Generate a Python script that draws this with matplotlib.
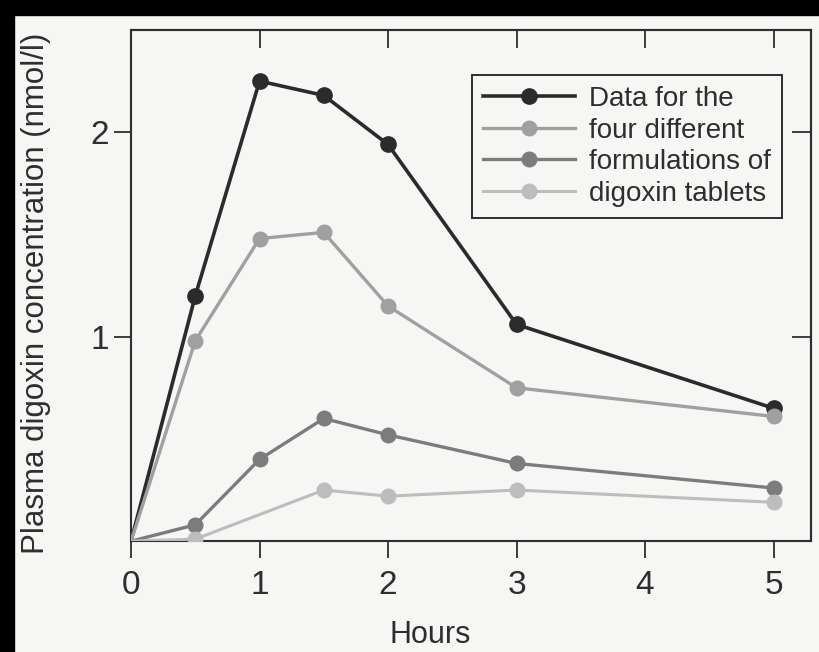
import matplotlib
matplotlib.use("Agg")
import matplotlib.pyplot as plt
from matplotlib.patches import Rectangle

plt.rcParams['font.family'] = ['Liberation Sans', 'DejaVu Sans']

# Sampling times (hours) and plasma digoxin levels (nmol/l) for four tablet formulations
hours_a = [0, 0.5, 1, 1.5, 2, 3, 5]
form_a = [0, 1.20, 2.25, 2.18, 1.94, 1.06, 0.65]
form_b = [0, 0.98, 1.48, 1.51, 1.15, 0.75, 0.61]
form_c = [0, 0.08, 0.40, 0.60, 0.52, 0.38, 0.26]
hours_d = [0, 0.5, 1.5, 2, 3, 5]
form_d = [0, 0.01, 0.25, 0.22, 0.25, 0.19]

legend_lines = ["Data for the", "four different", "formulations of", "digoxin tablets"]
x_ticks = [0, 1, 2, 3, 4, 5]
y_ticks = [1, 2]

paper = "#f6f6f4"
ink = "#2e2e2e"

fig = plt.figure(figsize=(8.2, 6.52), dpi=100, facecolor=paper)
ax = fig.add_axes([0.1598, 0.170, 0.829, 0.784], facecolor=paper)

styles = [
    dict(color="#2b2b2b", lw=2.6, ms=11),
    dict(color="#a0a0a0", lw=2.4, ms=10.5),
    dict(color="#7c7c7c", lw=2.4, ms=10.5),
    dict(color="#bdbdbd", lw=2.2, ms=10.5),
]
series = [(hours_a, form_a), (hours_a, form_b), (hours_a, form_c), (hours_d, form_d)]

handles = []
for (xs, ys), st, lab in zip(series, styles, legend_lines):
    h, = ax.plot(xs, ys, color=st["color"], lw=st["lw"], marker="o",
                 ms=st["ms"], mfc=st["color"], mec=st["color"],
                 markevery=list(range(1, len(xs))), label=lab, zorder=3)
    handles.append(h)

ax.set_xlim(0, 5.29)
ax.set_ylim(0, 2.5)
ax.set_xticks(x_ticks)
ax.set_yticks(y_ticks)
ax.tick_params(axis="both", direction="out", length=12, width=1.3, color=ink,
               labelsize=24, labelcolor=ink)
ax.tick_params(axis="x", pad=9)
ax.tick_params(axis="y", pad=4)

# Inward ticks on the top and right edges
top = ax.secondary_xaxis("top")
top.set_xticks(x_ticks[1:])
top.tick_params(direction="in", length=13, width=1.3, color=ink, labeltop=False)
right = ax.secondary_yaxis("right")
right.set_yticks(y_ticks)
right.tick_params(direction="in", length=14, width=1.3, color=ink, labelright=False)
for a in (ax, top, right):
    for s in a.spines.values():
        s.set_color(ink)
        s.set_linewidth(1.5)

ax.set_xlabel("Hours", fontsize=22, color=ink)
ax.xaxis.set_label_coords(0.44, -0.155)
ax.set_ylabel("Plasma digoxin concentration (nmol/l)", fontsize=22.5, color=ink)
ax.yaxis.set_label_coords(-0.118, 0.485)

leg = ax.legend(handles=handles, loc="upper right", bbox_to_anchor=(0.957, 0.912),
                fontsize=20, frameon=True, fancybox=False, handlelength=3.3,
                handletextpad=0.5, labelspacing=0.2, borderpad=0.4,
                borderaxespad=0.0, labelcolor=ink)
leg.get_frame().set_edgecolor(ink)
leg.get_frame().set_linewidth(1.4)
leg.get_frame().set_facecolor(paper)
leg.get_frame().set_alpha(1)

# Dark scanner edges along the top and left
fig.patches.append(Rectangle((0, 1 - 15 / 652), 1, 15 / 652, transform=fig.transFigure,
                             color="black", zorder=10))
fig.patches.append(Rectangle((0, 0), 14 / 820, 1, transform=fig.transFigure,
                             color="black", zorder=10))

fig.savefig("out.png", dpi=100, facecolor=paper)
